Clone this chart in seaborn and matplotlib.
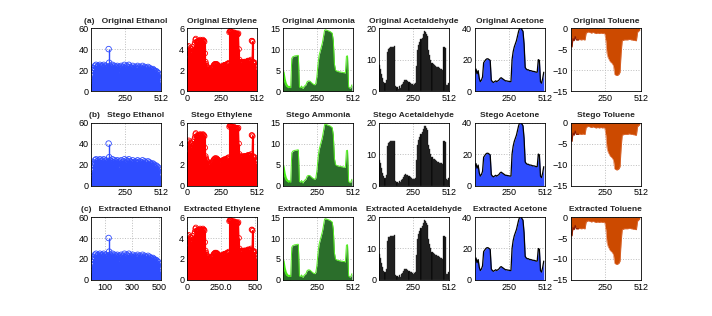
import numpy as np
import matplotlib
matplotlib.use("Agg")
import matplotlib.pyplot as plt
import seaborn as sns

# readings (sampled every few points of the 512-length signal)
ethanol = [8, 14, 11, 20, 17, 22, 19, 24, 21, 25, 18, 23, 20, 24, 22, 19,
           25, 21, 23, 18, 24, 20, 22, 25, 19, 23, 21, 24, 18, 22, 20, 23,
           40, 27, 22, 24, 19, 23, 21, 25, 20, 22, 18, 24, 21, 23, 19, 22,
           24, 20, 22, 17, 23, 19, 21, 24, 18, 22, 20, 23, 19, 25, 21, 18,
           22, 24, 20, 23, 18, 25, 21, 19, 23, 20, 22, 17, 24, 21, 19, 22,
           20, 23, 18, 22, 21, 24, 19, 22, 17, 23, 20, 21, 18, 22, 24, 19,
           21, 18, 23, 20, 22, 17, 21, 19, 23, 18, 20, 22, 19, 21, 17, 20,
           18, 21, 16, 20, 19, 17, 15, 19, 16, 18, 14, 17, 12, 15, 9, 6]

ethylene = [3.2, 4.2, 3.8, 4.3, 3.9, 3.6, 4.1, 3.7, 3.5, 4.0, 3.8, 4.2, 3.9, 4.4, 4.6, 4.9,
            5.0, 4.7, 4.6, 4.7, 4.8, 4.8, 4.7, 4.8, 4.9, 4.8, 4.8, 4.7, 4.8, 4.9, 4.8, 4.8, 4.7,
            3.6, 2.8, 2.6, 2.4, 2.3, 2.2, 2.1,
            2.0, 2.0, 2.1, 2.0, 2.1, 2.2, 2.2, 2.3, 2.4, 2.5,
            2.5, 2.6, 2.6, 2.5, 2.6, 2.5, 2.5, 2.4, 2.4, 2.3, 2.2, 2.2,
            2.2, 2.3, 2.3, 2.4, 2.4, 2.4, 2.5, 2.5, 2.4, 2.5, 2.5, 2.6, 2.6, 2.6, 2.7,
            5.6, 5.7, 5.7, 5.7, 5.6, 5.6, 5.6, 5.5, 5.5, 5.6, 5.5, 5.5, 5.5, 5.4, 5.5, 5.4, 5.4, 5.5, 4.0,
            3.0, 2.8, 2.7, 2.7, 2.8, 2.7, 2.7, 2.7, 2.8, 2.8, 2.8, 2.7, 2.8, 2.8, 2.8, 2.9, 2.9, 2.8, 2.9, 2.9, 2.8, 3.0,
            4.8, 4.8, 4.7,
            2.8, 2.7, 2.6, 2.7, 2.4, 2.1, 2.0]

ammonia = [3.0, 2.5, 1.8, 1.2, 1.0, 0.8, 1.0, 0.8,
           7.8, 8.2, 8.3, 8.4, 8.4, 8.5, 8.5,
           1.0, 0.8, 1.2, 0.6, 1.0, 1.3, 1.5, 2.2, 2.4,
           2.4, 2.3, 2.0, 1.8, 1.6, 1.5, 1.8,
           3.5, 6.5, 8.5, 9.5,
           10.5, 11.5, 13.0, 14.5,
           14.6, 14.5, 14.4, 14.3, 14.2, 14.0, 13.8,
           12.0, 6.5, 5.0,
           4.8, 4.7, 4.6, 4.6, 4.5, 4.5, 4.4, 4.4, 4.3,
           8.3, 8.4,
           1.0, 0.7, 0.8, 1.5]
ammonia_start = [5.2, 4.6, 3.0, 2.0, 1.5, 1.3, 1.4, 1.1]

acetaldehyde = [8.2, 7.0, 5.5, 4.0, 3.0, 2.5, 3.5,
                12.5, 13.5, 13.8, 14.0, 14.0, 14.1, 14.1, 14.2,
                1.5,
                1.2, 0.8, 1.5, 1.0, 1.8, 2.2, 2.8,
                3.5, 3.6, 3.4, 3.2, 3.0, 2.6,
                2.4, 2.2, 2.0, 2.2, 2.5,
                8.0, 13.0, 14.5, 15.5, 16.5, 17.0, 18.0, 19.0, 18.8, 18.2, 17.5,
                13.0, 11.5, 10.0, 9.0, 8.5,
                8.3, 8.0, 7.8, 7.6, 7.5, 7.3, 7.1, 7.0, 6.8,
                14.0, 13.8, 2.0, 1.8, 2.5]

acetone = [12, 14, 11, 13,
           8, 6, 7, 9,
           18, 19, 20, 20.5, 20.5, 20, 19.5,
           7, 6, 5.5, 6, 6.5, 6, 6.5, 7,
           8, 8.5, 8, 7.5,
           7, 6.5, 6.5, 6.3, 6.2, 6.0, 6.0,
           20, 25, 28, 30, 32, 35, 38,
           40, 41, 39, 38,
           30, 15, 14, 13.5, 13.5, 13, 13, 12.8, 12.5, 12.5, 12.3, 12, 12,
           20, 19.5,
           6, 5, 8, 12]

toluene = [-3.5, -4.5, -2.5,
           -3.0, -2.0, -2.8,
           -2.8, -2.8, -2.7, -2.8, -2.8, -2.7, -2.8, -2.8,
           -1.2, -1.0, -0.9, -1.0, -1.1, -1.2, -1.0, -1.1, -1.2, -1.3, -1.2, -1.2, -1.3, -1.2, -1.2, -1.3, -1.2, -1.3,
           -3.0, -6.0, -7.0, -7.5,
           -8.0, -8.2, -8.5, -9.0,
           -11.0, -11.2, -11.3, -11.2, -11.0, -10.5,
           -6.0,
           -3.0, -2.9, -2.8, -2.8, -2.8, -2.8, -2.7, -2.7, -2.8, -2.8, -2.9, -2.9, -3.0, -3.0,
           -1.0, -0.7, -0.5]

row_tags = ["(a)", "(b)", "(c)"]
row_names = ["Original", "Stego", "Extracted"]
gases = ["Ethanol", "Ethylene", "Ammonia", "Acetaldehyde", "Acetone", "Toluene"]
yticks = [[0, 20, 40, 60], [0, 2, 4, 6], [0, 5, 10, 15], [0, 10, 20], [0, 20, 40], [0, -5, -10, -15]]
ylims = [(0, 60), (0, 6), (0, 15), (0, 20), (0, 40), (-15, 0)]


def xpos(vals):
    return np.arange(len(vals)) * (512 / len(vals))


sns.set_style("white")
plt.rcParams['font.family'] = ['Liberation Sans', 'DejaVu Sans']

fig, axes = plt.subplots(3, 6, figsize=(7.12, 3.16), dpi=100)
fig.subplots_adjust(left=0.128, right=0.900, top=0.911, bottom=0.114, wspace=0.371, hspace=0.5)

blue = '#2f4cff'
for r in range(3):
    for c in range(6):
        ax = axes[r, c]
        if c == 0:
            x = xpos(ethanol)
            ax.vlines(x, 0, ethanol, color=blue, lw=1.0)
            sns.scatterplot(x=x, y=ethanol, ax=ax, marker='o', s=16, facecolor='none',
                            edgecolor=blue, linewidth=0.6)
        elif c == 1:
            x = xpos(ethylene)
            ax.fill_between(x, 0, ethylene, color='red', lw=0)
            ax.vlines(x, 0, ethylene, color='red', lw=0.8)
            sns.scatterplot(x=x, y=ethylene, ax=ax, marker='o', s=12, facecolor='none',
                            edgecolor='red', linewidth=0.6)
        elif c == 2:
            x = xpos(ammonia)
            ax.fill_between(x[:8], 0, ammonia_start, color='#44ee11', lw=0)
            ax.fill_between(x, 0, ammonia, color='#2b6e2b', lw=0)
            sns.lineplot(x=x, y=ammonia, ax=ax, color='#55ee22', lw=0.7)
        elif c == 3:
            x = xpos(acetaldehyde)
            ax.bar(x, acetaldehyde, width=8, align='edge', color='black',
                   edgecolor='#3a3a3a', linewidth=0.3)
        elif c == 4:
            x = xpos(acetone)
            ax.fill_between(x, 0, acetone, color=blue, lw=0)
            sns.lineplot(x=x, y=acetone, ax=ax, color='black', lw=0.9)
        else:
            x = xpos(toluene)
            ax.fill_between(x, 0, toluene, color='#cc4a00', lw=0)
            sns.lineplot(x=x, y=toluene, ax=ax, color='#e07040', lw=0.4)
            sns.lineplot(x=x[:8], y=toluene[:8], ax=ax, color='#8a1a00', lw=0.8)

        ax.set_xlim(0, 512)
        ax.set_ylim(*ylims[c])
        ax.set_yticks(yticks[c])
        if c == 0:
            xt = [100, 300, 500] if r == 2 else [250, 512]
            ax.set_xticks(xt)
            ax.set_xticklabels([str(v) for v in xt])
        elif c == 1:
            xt = [0, 250, 500] if r == 2 else [0, 250, 512]
            ax.set_xticks(xt)
            ax.set_xticklabels(["0", "250.0", "500"] if r == 2 else ["0", "250", "512"])
        else:
            ax.set_xticks([250, 512])
            ax.set_xticklabels(["250", "512"])
        ax.grid(True, color='#bdbdbd', ls=':', lw=0.7)
        ax.set_axisbelow(True)
        ax.tick_params(direction='in', length=2, width=0.5, labelsize=6.5, pad=2, colors='black')
        for s in ax.spines.values():
            s.set_linewidth(0.6)
            s.set_color('black')
        title = f"{row_names[r]} {gases[c]}"
        if c == 0:
            title = f"{row_tags[r]}   {title}"
        ax.set_title(title, fontsize=6.0, fontweight='bold', pad=4)
        ax.set_xlabel("")
        ax.set_ylabel("")

fig.savefig("out.png", dpi=100)
